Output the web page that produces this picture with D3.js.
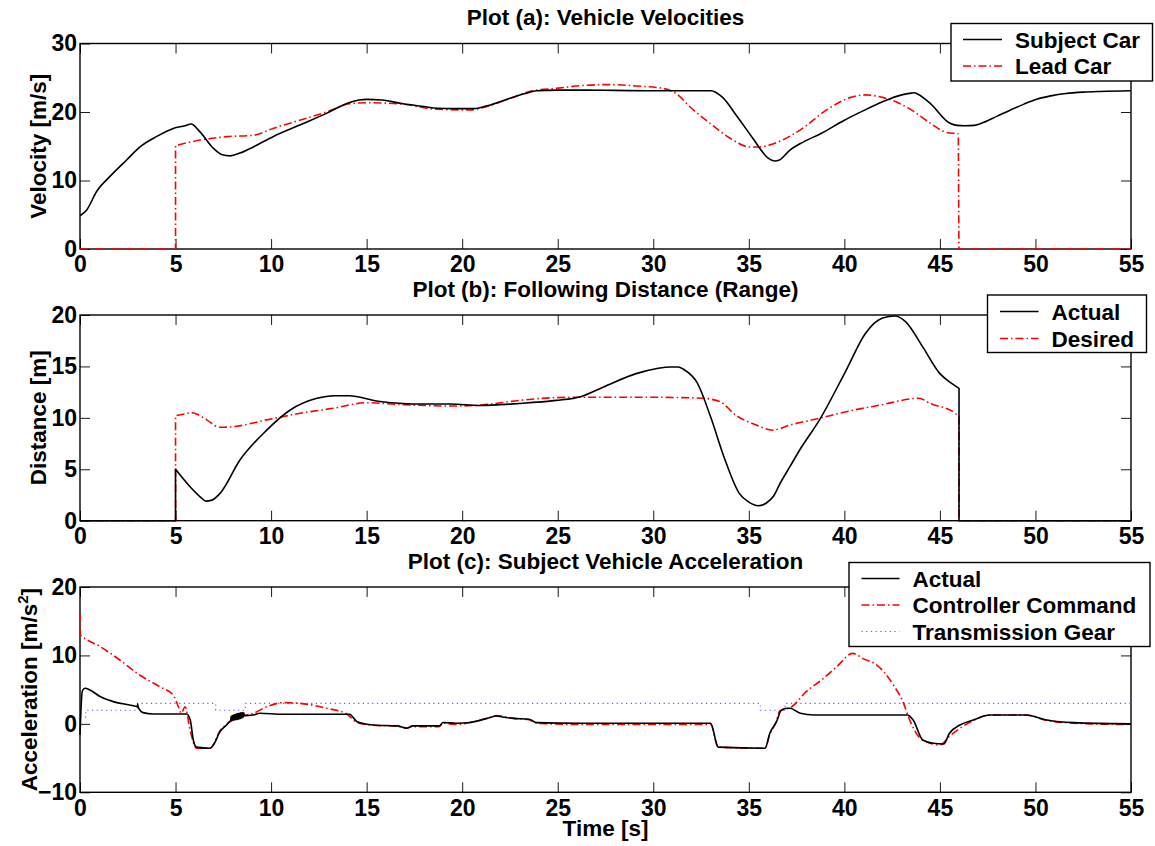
<!DOCTYPE html>
<html>
<head>
<meta charset="utf-8">
<script src="https://cdn.jsdelivr.net/npm/d3@7"></script>
<style>
  body { margin: 0; background: #fff; }
  text { font-family: "Liberation Sans", Arial, Helvetica, sans-serif; font-weight: bold; fill: #000; }
</style>
</head>
<body>
<svg id="chart" width="1155" height="846"></svg>
<script>
// ---- Shared time axis ----
const timeTicks = [0, 5, 10, 15, 20, 25, 30, 35, 40, 45, 50, 55];

// ---- Plot (a): vehicle velocities [m/s] ----
const velTicks = [0, 10, 20, 30];
const subjectT = [0, 0.35, 0.87, 1.57, 2.44, 3.14, 4.0, 4.88, 5.5, 5.81, 6.28, 6.98, 7.41, 7.85, 8.37, 9.07, 10.1, 11.5, 12.9, 14.1, 14.6, 15.0, 15.8, 16.9, 18.0, 18.7, 19.6, 20.6, 21.3, 22.5, 23.3, 23.9, 25, 26.5, 28, 30, 31.5, 33.05, 33.3, 33.6, 34.4, 35.2, 36.0, 36.2, 36.37, 36.6, 37.15, 37.7, 38.8, 40.0, 41.0, 42.0, 43.0, 43.5, 43.66, 43.85, 44.48, 45.5, 45.9, 46.3, 46.8, 47.3, 48.0, 48.7, 49.4, 50.06, 50.8, 51.6, 52.5, 53.4, 55];
const subjectV = [4.85, 5.7, 8.4, 10.6, 13.0, 14.9, 16.4, 17.6, 18.0, 18.25, 17.1, 14.7, 13.8, 13.6, 14.0, 14.9, 16.4, 18.1, 19.8, 21.4, 21.75, 21.85, 21.75, 21.2, 20.8, 20.55, 20.5, 20.5, 20.9, 22.0, 22.7, 23.1, 23.2, 23.2, 23.15, 23.1, 23.1, 23.1, 22.8, 22.2, 19.3, 16.2, 13.3, 12.95, 12.85, 13.0, 14.45, 15.4, 16.9, 18.8, 20.2, 21.5, 22.5, 22.75, 22.8, 22.6, 21.3, 18.4, 18.05, 18.0, 18.05, 18.5, 19.4, 20.3, 21.15, 21.85, 22.35, 22.7, 22.9, 23.0, 23.1];
const leadT = [0, 5, 5, 6.28, 7.67, 9.07, 10.1, 11.5, 12.9, 14.1, 15.0, 16.7, 18.67, 20.4, 21.3, 22.5, 23.7, 24.9, 26.5, 27.7, 29.1, 30.5, 31.2, 31.9, 32.97, 34.0, 35.06, 35.6, 36.1, 37.7, 39.07, 40.3, 41.1, 42.05, 43.4, 44.5, 45.35, 45.96, 46.0, 55];
const leadV = [0, 0, 15.1, 15.9, 16.4, 16.6, 17.6, 18.8, 20.0, 21.2, 21.35, 21.2, 20.4, 20.3, 20.8, 22.0, 23.1, 23.45, 23.9, 24.0, 23.8, 23.45, 22.7, 20.8, 18.35, 16.2, 14.9, 14.9, 15.2, 17.4, 20.3, 22.1, 22.5, 22.1, 20.5, 18.35, 17.0, 16.8, 0, 0];

// ---- Plot (b): following distance [m] ----
const distTicks = [0, 5, 10, 15, 20];
const rangeT = [0, 5, 5, 5.76, 6.3, 6.59, 6.9, 7.33, 8.37, 9.77, 11.0, 12.4, 13.3, 14.1, 15.5, 16.9, 17.8, 19.4, 20.9, 23.0, 24.9, 26.2, 27.4, 29.1, 30.2, 30.9, 31.3, 31.6, 32.3, 33.0, 33.7, 34.5, 35.0, 35.5, 35.9, 36.3, 36.63, 37.15, 37.67, 38.7, 40.1, 41.1, 42.0, 42.65, 43.2, 44.1, 45.0, 45.5, 46.0, 46.0, 55];
const rangeV = [0, 0, 5.0, 3.3, 2.3, 1.9, 2.0, 2.66, 5.9, 8.8, 10.76, 11.9, 12.15, 12.15, 11.64, 11.4, 11.35, 11.35, 11.2, 11.4, 11.7, 12.06, 13.0, 14.3, 14.8, 14.95, 14.95, 14.7, 13.4, 10.1, 6.2, 2.66, 1.8, 1.46, 1.7, 2.4, 3.6, 5.25, 6.9, 9.8, 14.65, 18.2, 19.7, 19.9, 19.35, 16.9, 14.3, 13.5, 12.87, 0, 0];
const desiredT = [0, 5, 5, 5.4, 5.84, 6.2, 6.63, 7.33, 8.0, 9.77, 11.5, 13.25, 15.0, 16.7, 19.5, 21.0, 23.0, 24.8, 26, 28, 30, 32.6, 33.5, 34.3, 35.4, 36.24, 37.15, 38.7, 40.1, 41.9, 43.9, 44.5, 45.8, 46.0, 46.0, 55];
const desiredV = [0, 0, 10.2, 10.35, 10.5, 10.3, 9.8, 9.08, 9.14, 9.8, 10.44, 10.93, 11.47, 11.3, 11.15, 11.25, 11.7, 11.96, 12.0, 12.0, 12.0, 11.9, 11.57, 10.28, 9.3, 8.8, 9.3, 9.96, 10.6, 11.25, 11.9, 11.4, 10.44, 10.1, 0, 0];

// ---- Plot (c): subject vehicle acceleration [m/s^2] ----
const accTicks = [-10, 0, 10, 20];
const accelT = [0, 0.12, 0.26, 0.52, 1.05, 1.74, 2.79, 3.0, 3.02, 3.05, 3.3, 3.84, 5.58, 5.77, 5.93, 6.1, 6.8, 6.98, 7.33, 7.67, 7.85,
  7.88, 7.91, 7.94, 7.97, 8.0, 8.03, 8.06, 8.09, 8.12, 8.15, 8.18, 8.21, 8.24, 8.27, 8.3, 8.33, 8.36, 8.39, 8.42, 8.45, 8.48, 8.51, 8.54, 8.57, 8.6,
  9.07, 9.4, 10.6, 14.1, 14.5, 15.35, 16.6, 17.1, 17.4, 18.8, 19.0, 19.7, 20.4, 21.3, 21.8, 22.1, 22.7, 23.5, 23.9, 26.3, 33.0, 33.4, 35.85, 36.1, 36.45, 36.7, 37.0, 37.15, 37.7, 38.4, 43.3, 43.6, 44.1, 44.66, 45.2, 45.5, 46.05, 46.75, 47.6, 49.5, 50.6, 52.0, 55];
const accelV = [-1.6, 4.8, 5.2, 4.95, 4.0, 3.25, 2.66, 2.5, 2.9, 2.4, 1.64, 1.45, 1.45, 0.57, -2.35, -3.4, -3.57, -3.1, -1.14, -0.16, 0.4,
  0.45, 1.1, 0.5, 1.2, 0.5, 1.3, 0.55, 1.35, 0.6, 1.4, 0.6, 1.5, 0.65, 1.5, 0.7, 1.55, 0.75, 1.6, 0.8, 1.6, 0.85, 1.65, 0.95, 1.6, 1.2,
  1.3, 1.55, 1.4, 1.4, 0.32, -0.16, -0.3, -0.65, -0.3, -0.3, 0.2, 0.1, 0.2, 0.8, 1.15, 1.0, 0.8, 0.67, 0.18, 0.08, 0.08, -3.4, -3.57, -1.37, 0.32, 2.0, 2.28, 2.28, 1.55, 1.3, 1.3, 0.57, -2.35, -2.84, -2.94, -1.37, -0.16, 0.57, 1.3, 1.3, 0.57, 0.18, 0.0];
const commandT = [0, 0.02, 0.1, 1.05, 2.1, 3.14, 4.19, 4.88, 5.15, 5.3, 5.5, 5.76, 6.1, 6.8, 7.33, 7.85, 8.37, 8.72, 9.07, 9.77, 10.64, 11.5, 12.9, 13.96, 14.5, 15.35, 16.6, 17.1, 17.4, 18.8, 19.0, 19.7, 20.4, 21.3, 21.8, 22.7, 23.5, 23.9, 26.3, 33.0, 33.4, 35.85, 36.1, 36.45, 36.6, 37.25, 38.0, 38.8, 39.6, 40.43, 41.0, 41.7, 42.56, 43.1, 43.35, 43.96, 44.3, 45.0, 45.5, 46.05, 46.75, 47.6, 49.5, 50.6, 52.0, 55];
const commandV = [16.2, 13.0, 12.8, 11.3, 9.3, 7.1, 5.4, 4.2, 2.5, 1.55, 2.5, -0.9, -3.57, -3.57, -1.0, 0.3, 1.05, 1.3, 1.55, 2.5, 3.1, 3.0, 2.28, 1.45, 0.2, -0.2, -0.35, -0.6, -0.4, -0.4, 0.1, -0.1, 0.2, 0.8, 1.2, 0.8, 0.6, 0.1, -0.1, -0.1, -3.4, -3.57, -1.5, 0.4, 1.8, 2.5, 4.7, 6.4, 8.36, 10.3, 9.5, 8.6, 5.7, 3.0, 1.05, -2.1, -2.6, -3.1, -1.8, -0.65, 0.5, 1.3, 1.3, 0.5, 0.1, -0.1];
const gearT = [0, 0.3, 0.3, 3.0, 3.0, 7.1, 7.1, 8.65, 8.65, 35.6, 35.6, 36.9, 36.9, 55];
const gearV = [1, 1, 2, 2, 3, 3, 2, 2, 3, 3, 2, 2, 3, 3];

// ---- Line styles ----
const styles = {
  solid:   { stroke: "#000", width: 1.6, dash: null },
  dashdot: { stroke: "#ff0000", width: 1.6, dash: "8,3,1.5,3" },
  dotted:  { stroke: "#5a5aff", width: 1.1, dash: "1.2,3.5" }
};

const zip = (ts, vs) => ts.map((t, i) => [t, vs[i]]);

const panels = [
  {
    id: "a", top: 43.5, bottom: 249, domain: [0, 30], ticks: velTicks,
    title: "Plot (a): Vehicle Velocities", ylabel: ["Velocity [m/s]"], ylabelX: 46,
    series: [
      { name: "Subject Car", data: zip(subjectT, subjectV), style: "solid" },
      { name: "Lead Car", data: zip(leadT, leadV), style: "dashdot" }
    ],
    legend: { x: 951, y: 23.5, w: 201.5, h: 57.5, lineX1: 963, lineX2: 1002, textX: 1015, rows: [39.5, 66] }
  },
  {
    id: "b", top: 315, bottom: 520.7, domain: [0, 20], ticks: distTicks,
    title: "Plot (b): Following Distance (Range)", ylabel: ["Distance [m]"], ylabelX: 46,
    series: [
      { name: "Actual", data: zip(rangeT, rangeV), style: "solid" },
      { name: "Desired", data: zip(desiredT, desiredV), style: "dashdot" }
    ],
    legend: { x: 987.5, y: 295, w: 159, h: 57.5, lineX1: 1000, lineX2: 1038.5, textX: 1051.5, rows: [311.5, 338.5] }
  },
  {
    id: "c", top: 587, bottom: 792.3, domain: [-10, 20], ticks: accTicks,
    title: "Plot (c): Subject Vehicle Acceleration", ylabel: "acc", ylabelX: 37,
    series: [
      { name: "Actual", data: zip(accelT, accelV), style: "solid" },
      { name: "Controller Command", data: zip(commandT, commandV), style: "dashdot" },
      { name: "Transmission Gear", data: zip(gearT, gearV), style: "dotted" }
    ],
    legend: { x: 849, y: 562.5, w: 301, h: 84, lineX1: 861.5, lineX2: 899.5, textX: 912.5, rows: [578.5, 605, 631.5] },
    xlabel: "Time [s]"
  }
];

const svg = d3.select("#chart");
const FS = 22.5;      // titles, labels, legend
const TFS = 23;       // tick labels
const x = d3.scaleLinear().domain([0, 55]).range([80, 1131]);

// Smooth path through the samples; jumps (repeated time values) stay vertical.
function tracePath(data, y) {
  const gen = d3.line().x(d => x(d[0])).y(d => y(d[1])).curve(d3.curveMonotoneX);
  const runs = [];
  let cur = [data[0]];
  for (let i = 1; i < data.length; i++) {
    if (data[i][0] === data[i - 1][0]) { runs.push(cur); cur = [data[i]]; }
    else cur.push(data[i]);
  }
  runs.push(cur);
  return runs.map((r, i) => {
    const s = r.length > 1 ? gen(r) : `M${x(r[0][0])},${y(r[0][1])}`;
    return i === 0 ? s : "L" + s.slice(1);
  }).join("");
}

panels.forEach(p => {
  const y = d3.scaleLinear().domain(p.domain).range([p.bottom, p.top]);
  const g = svg.append("g").attr("class", "panel-" + p.id);

  // clip region for the data lines
  svg.append("clipPath").attr("id", "clip-" + p.id)
    .append("rect").attr("x", 79).attr("y", p.top - 2)
    .attr("width", 1131 - 79 + 1).attr("height", p.bottom - p.top + 4);

  // axes with inward ticks on all four sides
  const tickStyle = sel => {
    sel.select(".domain").remove();
    sel.selectAll(".tick line").attr("stroke", "#000").attr("stroke-width", 0.9);
    sel.selectAll(".tick text").attr("font-size", TFS).attr("fill", "#000")
      .style("font-family", '"Liberation Sans", Arial, sans-serif').style("font-weight", "bold");
  };
  g.append("g").attr("transform", `translate(0,${p.bottom})`)
    .call(d3.axisBottom(x).tickValues(timeTicks).tickSize(-10).tickPadding(7).tickFormat(d3.format("d")))
    .call(tickStyle);
  g.append("g").attr("transform", `translate(0,${p.top})`)
    .call(d3.axisTop(x).tickValues(timeTicks).tickSize(-10).tickFormat(""))
    .call(tickStyle);
  g.append("g").attr("transform", "translate(80,0)")
    .call(d3.axisLeft(y).tickValues(p.ticks).tickSize(-10).tickPadding(3)
      .tickFormat(d => d < 0 ? "\u2212" + Math.abs(d) : String(d)))
    .call(tickStyle);
  g.append("g").attr("transform", "translate(1131,0)")
    .call(d3.axisRight(y).tickValues(p.ticks).tickSize(-10).tickFormat(""))
    .call(tickStyle);

  // frame
  g.append("rect").attr("x", 80).attr("y", p.top)
    .attr("width", 1131 - 80).attr("height", p.bottom - p.top)
    .attr("fill", "none").attr("stroke", "#000").attr("stroke-width", 1.4);

  // data lines (drawn in reverse so the first series sits on top)
  const lg = g.append("g").attr("clip-path", `url(#clip-${p.id})`);
  p.series.slice().reverse().forEach(s => {
    const st = styles[s.style];
    lg.append("path").datum(s.data)
      .attr("d", d => tracePath(d, y))
      .attr("fill", "none")
      .attr("stroke", st.stroke)
      .attr("stroke-width", st.width)
      .attr("stroke-linejoin", "round")
      .attr("stroke-dasharray", st.dash);
  });

  // title
  g.append("text").attr("x", (80 + 1131) / 2).attr("y", p.top - 18.5)
    .attr("text-anchor", "middle").attr("font-size", FS).text(p.title);

  // y label
  const cy = (p.top + p.bottom) / 2;
  const yl = g.append("text")
    .attr("transform", `translate(${p.ylabelX},${cy}) rotate(-90)`)
    .attr("text-anchor", "middle").attr("font-size", FS);
  if (p.ylabel === "acc") {
    yl.append("tspan").text("Acceleration [m/s");
    yl.append("tspan").attr("dy", -9).attr("font-size", 15).text("2");
    yl.append("tspan").attr("dy", 9).text("]");
  } else {
    yl.text(p.ylabel[0]);
  }

  // x label
  if (p.xlabel) {
    g.append("text").attr("x", (80 + 1131) / 2).attr("y", p.bottom + 44)
      .attr("text-anchor", "middle").attr("font-size", FS).text(p.xlabel);
  }

  // legend
  const L = p.legend;
  const leg = g.append("g").attr("class", "legend");
  leg.append("rect").attr("x", L.x).attr("y", L.y).attr("width", L.w).attr("height", L.h)
    .attr("fill", "#fff").attr("stroke", "#000").attr("stroke-width", 1.4);
  p.series.forEach((s, i) => {
    const st = styles[s.style];
    const ry = L.rows[i];
    leg.append("line").attr("x1", L.lineX1).attr("x2", L.lineX2).attr("y1", ry).attr("y2", ry)
      .attr("stroke", st.stroke).attr("stroke-width", st.width).attr("stroke-dasharray", st.dash);
    leg.append("text").attr("x", L.textX).attr("y", ry + 8).attr("font-size", FS).text(s.name);
  });
});
</script>
</body>
</html>
